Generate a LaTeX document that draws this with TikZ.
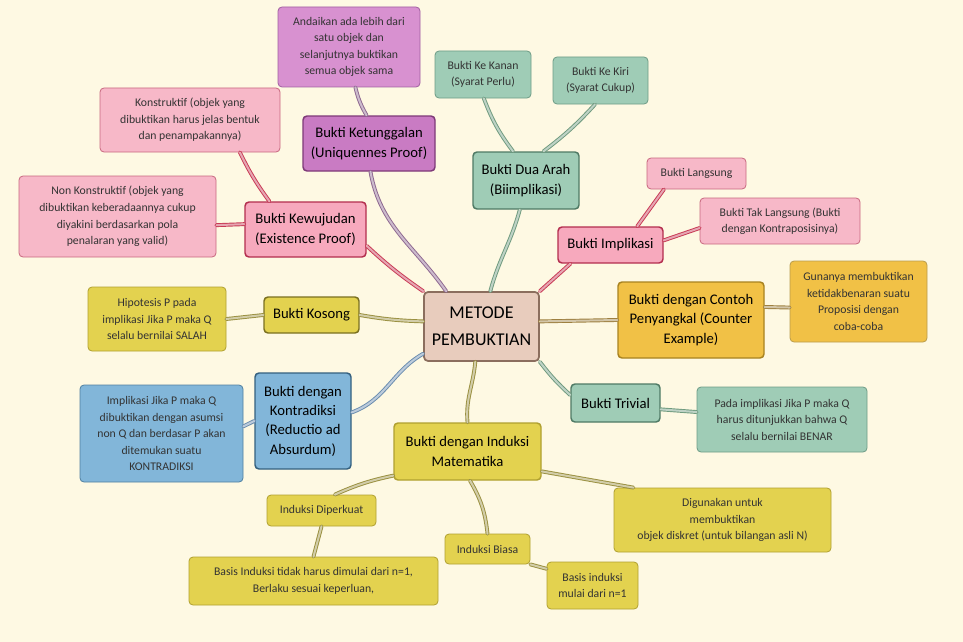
\documentclass[tikz,border=0pt]{standalone}
\usepackage{fontspec}
\setmainfont{Carlito}
\newdimen\pxu \pxu=0.75pt
\definecolor{bgc}{HTML}{FEF9E3}
\definecolor{cfill}{HTML}{E8CCBD}\definecolor{cline}{HTML}{8B6E5E}
\definecolor{pkfill}{HTML}{F7B8C8}\definecolor{pkline}{HTML}{C8687F}
\definecolor{rdfill}{HTML}{F7A9BD}\definecolor{rdline}{HTML}{B32E4E}\definecolor{rdlink}{HTML}{C83A55}
\definecolor{pufill}{HTML}{D891D0}\definecolor{puline}{HTML}{A060A0}
\definecolor{pdfill}{HTML}{C97BC3}\definecolor{pdline}{HTML}{7E3A78}\definecolor{pulink}{HTML}{8E6890}
\definecolor{tlfill}{HTML}{9FCCB6}\definecolor{tlline}{HTML}{6E9C86}\definecolor{tdline}{HTML}{4F7A65}\definecolor{tllink}{HTML}{6F9A7E}
\definecolor{ylfill}{HTML}{E3D24F}\definecolor{ylline}{HTML}{B0A030}\definecolor{ydline}{HTML}{7A7020}\definecolor{yllink}{HTML}{9A9040}
\definecolor{blfill}{HTML}{82B6D9}\definecolor{blline}{HTML}{4F7FA0}\definecolor{bdline}{HTML}{34607F}\definecolor{bllink}{HTML}{6A8CAE}
\definecolor{orfill}{HTML}{F1C146}\definecolor{orline}{HTML}{A88320}\definecolor{orlink}{HTML}{9E8040}
\begin{document}
\begin{tikzpicture}[x=0.75pt,y=-0.75pt,
  sz/.style 2 args={minimum width=#1\pxu,minimum height=#2\pxu},
  base/.style={rectangle,rounded corners=3pt,align=center,inner sep=2pt},
  one/.style={base,line width=1.1pt,font=\fontsize{11}{14.5}\selectfont,text=black},
  two/.style={base,line width=0.6pt,font=\fontsize{8.8}{12.4}\selectfont,text=black!80},
  lk/.style={draw=#1,double=#1!45!white,double distance=1.5pt,line width=0.7pt,line cap=round}]
\useasboundingbox (0,0) rectangle (963,642);
\fill[bgc] (0,0) rectangle (963,642);
% nodes
\node[base,sz={115}{69},fill=cfill,draw=cline,line width=1.3pt,font=\fontsize{13.5}{20}\selectfont] (C) at (481.5,326.5) {METODE\\PEMBUKTIAN};
\node[two,sz={142}{80},fill=pufill,draw=puline] (And) at (349,47) {Andaikan ada lebih dari\\satu objek dan\\selanjutnya buktikan\\semua objek sama};
\node[one,sz={132}{55},fill=pdfill,draw=pdline] (Ket) at (369,143.5) {Bukti Ketunggalan\\(Uniquennes Proof)};
\node[two,sz={180}{64},fill=pkfill,draw=pkline] (Kon) at (190,120) {Konstruktif (objek yang\\dibuktikan harus jelas bentuk\\dan penampakannya)};
\node[two,sz={197}{81},fill=pkfill,draw=pkline] (Non) at (117.5,216.5) {Non Konstruktif (objek yang\\dibuktikan keberadaannya cukup\\diyakini berdasarkan pola\\penalaran yang valid)};
\node[one,sz={121}{55},fill=rdfill,draw=rdline] (Kew) at (305.5,229.5) {Bukti Kewujudan\\(Existence Proof)};
\node[two,sz={96}{47},fill=tlfill,draw=tlline] (Kan) at (483,74.5) {Bukti Ke Kanan\\(Syarat Perlu)};
\node[two,sz={95}{47},fill=tlfill,draw=tlline] (Kir) at (600.5,80.5) {Bukti Ke Kiri\\(Syarat Cukup)};
\node[one,sz={106}{57},fill=tlfill,draw=tdline] (DA) at (526,180.5) {Bukti Dua Arah\\(Biimplikasi)};
\node[two,sz={99}{31},fill=pkfill,draw=pkline] (Lan) at (696.5,173.5) {Bukti Langsung};
\node[two,sz={160}{46},fill=pkfill,draw=pkline] (TL) at (780,221) {Bukti Tak Langsung (Bukti\\dengan Kontraposisinya)};
\node[one,sz={105}{36},fill=rdfill,draw=rdline] (Imp) at (610.5,245) {Bukti Implikasi};
\node[two,sz={138}{64},fill=ylfill,draw=ylline] (Hip) at (157,319) {Hipotesis P pada\\implikasi Jika P maka Q\\selalu bernilai SALAH};
\node[one,sz={95}{36},fill=ylfill,draw=ydline] (Kos) at (311.5,315) {Bukti Kosong};
\node[two,sz={163}{97},fill=blfill,draw=blline] (IB) at (161.5,433.5) {Implikasi Jika P maka Q\\dibuktikan dengan asumsi\\non Q dan berdasar P akan\\ditemukan suatu\\KONTRADIKSI};
\node[one,sz={96}{96},fill=blfill,draw=bdline] (Ktr) at (303,421) {Bukti dengan\\Kontradiksi\\(Reductio ad\\Absurdum)};
\node[one,sz={146}{76},fill=orfill,draw=orline] (Pen) at (691,320) {Bukti dengan Contoh\\Penyangkal (Counter\\Example)};
\node[two,sz={137}{81},fill=orfill,draw=orline!80] (Gun) at (858.5,301.5) {Gunanya membuktikan\\ketidakbenaran suatu\\Proposisi dengan\\coba-coba};
\node[one,sz={89}{38},fill=tlfill,draw=tdline] (Tri) at (615.5,403) {Bukti Trivial};
\node[two,sz={170}{65},fill=tlfill,draw=tlline] (Pad) at (782,419.5) {Pada implikasi Jika P maka Q\\harus ditunjukkan bahwa Q\\selalu bernilai BENAR};
\node[one,sz={147}{57},fill=ylfill,draw=ylline] (Ind) at (467.5,451.5) {Bukti dengan Induksi\\Matematika};
\node[two,sz={109}{31},fill=ylfill,draw=ylline] (Dip) at (321.5,510.5) {Induksi Diperkuat};
\node[two,sz={249}{48},fill=ylfill,draw=ylline] (BT) at (313.5,581) {Basis Induksi tidak harus dimulai dari n=1,\\Berlaku sesuai keperluan,};
\node[two,sz={85}{30},fill=ylfill,draw=ylline] (Bia) at (487.5,549) {Induksi Biasa};
\node[two,sz={91}{47},fill=ylfill,draw=ylline] (BM) at (592.5,585.5) {Basis induksi\\mulai dari n=1};
\node[two,sz={217}{64},fill=ylfill,draw=ylline] (Dig) at (722.5,520) {Digunakan untuk\\membuktikan\\objek diskret (untuk bilangan asli N)};
% connectors
\draw[lk=rdlink] (C.north west) to[bend left=4] (Kew.-15);
\draw[lk=rdlink] (Kew.142) to[bend left=5] (Kon.-33);
\draw[lk=rdlink] (Kew.175) -- (Non.-5);
\draw[lk=pulink] (C.135) to[out=125,in=-80] (Ket.-87);
\draw[lk=pulink] (Ket.95) to[bend left=8] (And.-81);
\draw[lk=tllink] (C.76) to[out=75,in=-105] (DA.-102);
\draw[lk=tllink] (DA.114) to[bend left=8] (Kan.-88);
\draw[lk=tllink] (DA.59) to[bend right=5] (Kir.-103);
\draw[lk=rdlink] (C.north east) -- (Imp.-155);
\draw[lk=rdlink] (Imp.35) -- (Lan.-154);
\draw[lk=rdlink] (Imp.5) -- (TL.185);
\draw[lk=orlink] (C.5) -- (Pen.180);
\draw[lk=orlink] (Pen.10) -- (Gun.185);
\draw[lk=tllink] (C.south east) to[bend right=5] (Tri.170);
\draw[lk=tllink] (Tri.-8) -- (Pad.175);
\draw[lk=yllink] (C.-100) to[out=-95,in=95] (Ind.north);
\draw[lk=yllink] (Ind.-162) to[bend right=6] (Dip.50);
\draw[lk=yllink] (Ind.-85) to[bend left=12] (Bia.north);
\draw[lk=yllink] (Ind.-15) -- (Dig.160);
\draw[lk=yllink] (Dip.south) -- (BT.north);
\draw[lk=yllink] (Bia.south east) -- (BM.160);
\draw[lk=yllink] (C.175) to[bend left=4] (Kos.east);
\draw[lk=yllink] (Kos.west) -- (Hip.east);
\draw[lk=bllink] (C.-155) to[out=-150,in=20] (Ktr.10);
\draw[lk=bllink] (Ktr.west) -- (IB.5);
\end{tikzpicture}
\end{document}
